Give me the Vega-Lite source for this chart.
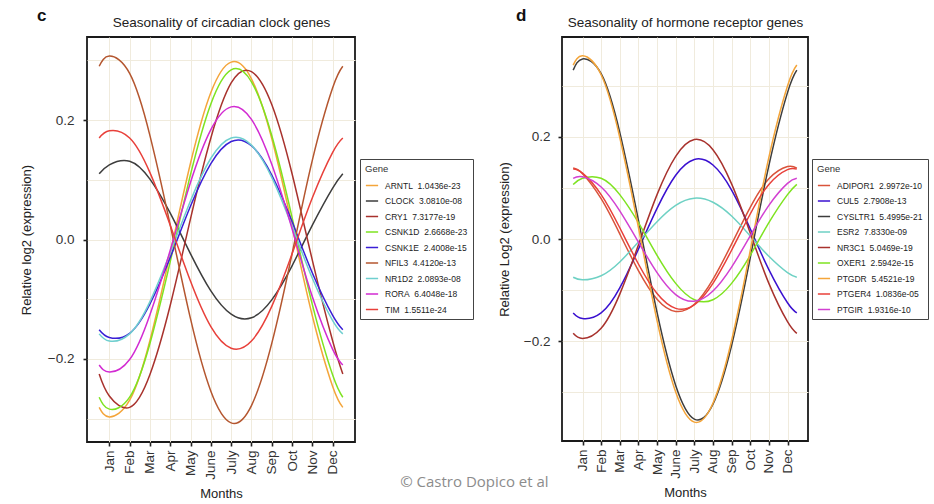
{
 "$schema": "https://vega.github.io/schema/vega-lite/v6.json",
 "padding": {"left": 19, "top": 6, "right": 1, "bottom": 2},
 "background": "white",
 "config": {
  "font": "Liberation Sans",
  "view": {"stroke": "#1a1a1a", "strokeWidth": 1.8},
  "axis": {"labelFont": "Liberation Sans", "titleFont": "Liberation Sans", "labelColor": "#333333", "titleColor": "#222222", "labelFontSize": 13.5, "titleFontSize": 13, "titleFontWeight": "normal", "tickColor": "#222222", "tickWidth": 1.6, "tickSize": 4, "domain": false, "gridColor": "#f0ebdd", "gridWidth": 1},
  "legend": {"labelFont": "Liberation Sans", "titleFont": "Liberation Sans"},
  "title": {"font": "Liberation Sans", "color": "#111111"}
 },
 "datasets": {
  "cg": [
   {"g": "ARNTL", "lab": "ARNTL\u00a0 1.0436e-23"},
   {"g": "CLOCK", "lab": "CLOCK\u00a0 3.0810e-08"},
   {"g": "CRY1", "lab": "CRY1\u00a0 7.3177e-19"},
   {"g": "CSNK1D", "lab": "CSNK1D\u00a0 2.6668e-23"},
   {"g": "CSNK1E", "lab": "CSNK1E\u00a0 2.4008e-15"},
   {"g": "NFIL3", "lab": "NFIL3\u00a0 4.4120e-13"},
   {"g": "NR1D2", "lab": "NR1D2\u00a0 2.0893e-08"},
   {"g": "RORA", "lab": "RORA\u00a0 6.4048e-18"},
   {"g": "TIM", "lab": "TIM\u00a0 1.5511e-24"}
  ],
  "dg": [
   {"g": "ADIPOR1", "lab": "ADIPOR1\u00a0 2.9972e-10"},
   {"g": "CUL5", "lab": "CUL5\u00a0 2.7908e-13"},
   {"g": "CYSLTR1", "lab": "CYSLTR1\u00a0 5.4995e-21"},
   {"g": "ESR2", "lab": "ESR2\u00a0 7.8330e-09"},
   {"g": "NR3C1", "lab": "NR3C1\u00a0 5.0469e-19"},
   {"g": "OXER1", "lab": "OXER1\u00a0 2.5942e-15"},
   {"g": "PTGDR", "lab": "PTGDR\u00a0 5.4521e-19"},
   {"g": "PTGER4", "lab": "PTGER4\u00a0 1.0836e-05"},
   {"g": "PTGIR", "lab": "PTGIR\u00a0 1.9316e-10"}
  ],
  "c": [
   {"g":"ARNTL","m":0.5,"v":-0.281},{"g":"ARNTL","m":1,"v":-0.297},{"g":"ARNTL","m":2,"v":-0.269},{"g":"ARNTL","m":3,"v":-0.169},{"g":"ARNTL","m":4,"v":-0.023},{"g":"ARNTL","m":5,"v":0.128},{"g":"ARNTL","m":6,"v":0.246},{"g":"ARNTL","m":7,"v":0.297},{"g":"ARNTL","m":8,"v":0.269},{"g":"ARNTL","m":9,"v":0.169},{"g":"ARNTL","m":10,"v":0.023},{"g":"ARNTL","m":11,"v":-0.128},{"g":"ARNTL","m":12,"v":-0.246},{"g":"ARNTL","m":12.5,"v":-0.281},
   {"g":"CLOCK","m":0.5,"v":0.110},{"g":"CLOCK","m":1,"v":0.125},{"g":"CLOCK","m":2,"v":0.131},{"g":"CLOCK","m":3,"v":0.101},{"g":"CLOCK","m":4,"v":0.044},{"g":"CLOCK","m":5,"v":-0.024},{"g":"CLOCK","m":6,"v":-0.086},{"g":"CLOCK","m":7,"v":-0.125},{"g":"CLOCK","m":8,"v":-0.131},{"g":"CLOCK","m":9,"v":-0.101},{"g":"CLOCK","m":10,"v":-0.044},{"g":"CLOCK","m":11,"v":0.024},{"g":"CLOCK","m":12,"v":0.086},{"g":"CLOCK","m":12.5,"v":0.110},
   {"g":"CRY1","m":0.5,"v":-0.225},{"g":"CRY1","m":1,"v":-0.262},{"g":"CRY1","m":2,"v":-0.281},{"g":"CRY1","m":3,"v":-0.226},{"g":"CRY1","m":4,"v":-0.110},{"g":"CRY1","m":5,"v":0.035},{"g":"CRY1","m":6,"v":0.170},{"g":"CRY1","m":7,"v":0.262},{"g":"CRY1","m":8,"v":0.281},{"g":"CRY1","m":9,"v":0.226},{"g":"CRY1","m":10,"v":0.110},{"g":"CRY1","m":11,"v":-0.035},{"g":"CRY1","m":12,"v":-0.170},{"g":"CRY1","m":12.5,"v":-0.225},
   {"g":"CSNK1D","m":0.5,"v":-0.264},{"g":"CSNK1D","m":1,"v":-0.284},{"g":"CSNK1D","m":2,"v":-0.264},{"g":"CSNK1D","m":3,"v":-0.174},{"g":"CSNK1D","m":4,"v":-0.037},{"g":"CSNK1D","m":5,"v":0.109},{"g":"CSNK1D","m":6,"v":0.227},{"g":"CSNK1D","m":7,"v":0.284},{"g":"CSNK1D","m":8,"v":0.264},{"g":"CSNK1D","m":9,"v":0.174},{"g":"CSNK1D","m":10,"v":0.037},{"g":"CSNK1D","m":11,"v":-0.109},{"g":"CSNK1D","m":12,"v":-0.227},{"g":"CSNK1D","m":12.5,"v":-0.264},
   {"g":"CSNK1E","m":0.5,"v":-0.151},{"g":"CSNK1E","m":1,"v":-0.164},{"g":"CSNK1E","m":2,"v":-0.157},{"g":"CSNK1E","m":3,"v":-0.108},{"g":"CSNK1E","m":4,"v":-0.030},{"g":"CSNK1E","m":5,"v":0.056},{"g":"CSNK1E","m":6,"v":0.127},{"g":"CSNK1E","m":7,"v":0.164},{"g":"CSNK1E","m":8,"v":0.157},{"g":"CSNK1E","m":9,"v":0.108},{"g":"CSNK1E","m":10,"v":0.030},{"g":"CSNK1E","m":11,"v":-0.056},{"g":"CSNK1E","m":12,"v":-0.127},{"g":"CSNK1E","m":12.5,"v":-0.151},
   {"g":"NFIL3","m":0.5,"v":0.290},{"g":"NFIL3","m":1,"v":0.307},{"g":"NFIL3","m":2,"v":0.278},{"g":"NFIL3","m":3,"v":0.174},{"g":"NFIL3","m":4,"v":0.024},{"g":"NFIL3","m":5,"v":-0.133},{"g":"NFIL3","m":6,"v":-0.254},{"g":"NFIL3","m":7,"v":-0.307},{"g":"NFIL3","m":8,"v":-0.278},{"g":"NFIL3","m":9,"v":-0.174},{"g":"NFIL3","m":10,"v":-0.024},{"g":"NFIL3","m":11,"v":0.133},{"g":"NFIL3","m":12,"v":0.254},{"g":"NFIL3","m":12.5,"v":0.290},
   {"g":"NR1D2","m":0.5,"v":-0.158},{"g":"NR1D2","m":1,"v":-0.170},{"g":"NR1D2","m":2,"v":-0.158},{"g":"NR1D2","m":3,"v":-0.104},{"g":"NR1D2","m":4,"v":-0.022},{"g":"NR1D2","m":5,"v":0.065},{"g":"NR1D2","m":6,"v":0.136},{"g":"NR1D2","m":7,"v":0.170},{"g":"NR1D2","m":8,"v":0.158},{"g":"NR1D2","m":9,"v":0.104},{"g":"NR1D2","m":10,"v":0.022},{"g":"NR1D2","m":11,"v":-0.065},{"g":"NR1D2","m":12,"v":-0.136},{"g":"NR1D2","m":12.5,"v":-0.158},
   {"g":"RORA","m":0.5,"v":-0.210},{"g":"RORA","m":1,"v":-0.222},{"g":"RORA","m":2,"v":-0.201},{"g":"RORA","m":3,"v":-0.126},{"g":"RORA","m":4,"v":-0.018},{"g":"RORA","m":5,"v":0.096},{"g":"RORA","m":6,"v":0.184},{"g":"RORA","m":7,"v":0.222},{"g":"RORA","m":8,"v":0.201},{"g":"RORA","m":9,"v":0.126},{"g":"RORA","m":10,"v":0.018},{"g":"RORA","m":11,"v":-0.096},{"g":"RORA","m":12,"v":-0.184},{"g":"RORA","m":12.5,"v":-0.210},
   {"g":"TIM","m":0.5,"v":0.170},{"g":"TIM","m":1,"v":0.182},{"g":"TIM","m":2,"v":0.170},{"g":"TIM","m":3,"v":0.112},{"g":"TIM","m":4,"v":0.024},{"g":"TIM","m":5,"v":-0.070},{"g":"TIM","m":6,"v":-0.146},{"g":"TIM","m":7,"v":-0.182},{"g":"TIM","m":8,"v":-0.170},{"g":"TIM","m":9,"v":-0.112},{"g":"TIM","m":10,"v":-0.024},{"g":"TIM","m":11,"v":0.070},{"g":"TIM","m":12,"v":0.146},{"g":"TIM","m":12.5,"v":0.170}
  ],
  "d": [
   {"g":"ADIPOR1","m":0.5,"v":0.139},{"g":"ADIPOR1","m":1,"v":0.128},{"g":"ADIPOR1","m":2,"v":0.079},{"g":"ADIPOR1","m":3,"v":0.010},{"g":"ADIPOR1","m":4,"v":-0.062},{"g":"ADIPOR1","m":5,"v":-0.118},{"g":"ADIPOR1","m":6,"v":-0.142},{"g":"ADIPOR1","m":7,"v":-0.128},{"g":"ADIPOR1","m":8,"v":-0.079},{"g":"ADIPOR1","m":9,"v":-0.010},{"g":"ADIPOR1","m":10,"v":0.062},{"g":"ADIPOR1","m":11,"v":0.118},{"g":"ADIPOR1","m":12,"v":0.142},{"g":"ADIPOR1","m":12.5,"v":0.139},
   {"g":"CUL5","m":0.5,"v":-0.145},{"g":"CUL5","m":1,"v":-0.156},{"g":"CUL5","m":2,"v":-0.145},{"g":"CUL5","m":3,"v":-0.096},{"g":"CUL5","m":4,"v":-0.020},{"g":"CUL5","m":5,"v":0.060},{"g":"CUL5","m":6,"v":0.125},{"g":"CUL5","m":7,"v":0.156},{"g":"CUL5","m":8,"v":0.145},{"g":"CUL5","m":9,"v":0.096},{"g":"CUL5","m":10,"v":0.020},{"g":"CUL5","m":11,"v":-0.060},{"g":"CUL5","m":12,"v":-0.125},{"g":"CUL5","m":12.5,"v":-0.145},
   {"g":"CYSLTR1","m":0.5,"v":0.331},{"g":"CYSLTR1","m":1,"v":0.353},{"g":"CYSLTR1","m":2,"v":0.324},{"g":"CYSLTR1","m":3,"v":0.209},{"g":"CYSLTR1","m":4,"v":0.037},{"g":"CYSLTR1","m":5,"v":-0.144},{"g":"CYSLTR1","m":6,"v":-0.287},{"g":"CYSLTR1","m":7,"v":-0.353},{"g":"CYSLTR1","m":8,"v":-0.324},{"g":"CYSLTR1","m":9,"v":-0.209},{"g":"CYSLTR1","m":10,"v":-0.037},{"g":"CYSLTR1","m":11,"v":0.144},{"g":"CYSLTR1","m":12,"v":0.287},{"g":"CYSLTR1","m":12.5,"v":0.331},
   {"g":"ESR2","m":0.5,"v":-0.075},{"g":"ESR2","m":1,"v":-0.080},{"g":"ESR2","m":2,"v":-0.072},{"g":"ESR2","m":3,"v":-0.045},{"g":"ESR2","m":4,"v":-0.006},{"g":"ESR2","m":5,"v":0.034},{"g":"ESR2","m":6,"v":0.066},{"g":"ESR2","m":7,"v":0.080},{"g":"ESR2","m":8,"v":0.072},{"g":"ESR2","m":9,"v":0.045},{"g":"ESR2","m":10,"v":0.006},{"g":"ESR2","m":11,"v":-0.034},{"g":"ESR2","m":12,"v":-0.066},{"g":"ESR2","m":12.5,"v":-0.075},
   {"g":"NR3C1","m":0.5,"v":-0.185},{"g":"NR3C1","m":1,"v":-0.195},{"g":"NR3C1","m":2,"v":-0.175},{"g":"NR3C1","m":3,"v":-0.108},{"g":"NR3C1","m":4,"v":-0.012},{"g":"NR3C1","m":5,"v":0.087},{"g":"NR3C1","m":6,"v":0.162},{"g":"NR3C1","m":7,"v":0.195},{"g":"NR3C1","m":8,"v":0.175},{"g":"NR3C1","m":9,"v":0.108},{"g":"NR3C1","m":10,"v":0.012},{"g":"NR3C1","m":11,"v":-0.087},{"g":"NR3C1","m":12,"v":-0.162},{"g":"NR3C1","m":12.5,"v":-0.185},
   {"g":"OXER1","m":0.5,"v":0.107},{"g":"OXER1","m":1,"v":0.119},{"g":"OXER1","m":2,"v":0.119},{"g":"OXER1","m":3,"v":0.087},{"g":"OXER1","m":4,"v":0.032},{"g":"OXER1","m":5,"v":-0.032},{"g":"OXER1","m":6,"v":-0.087},{"g":"OXER1","m":7,"v":-0.119},{"g":"OXER1","m":8,"v":-0.119},{"g":"OXER1","m":9,"v":-0.087},{"g":"OXER1","m":10,"v":-0.032},{"g":"OXER1","m":11,"v":0.032},{"g":"OXER1","m":12,"v":0.087},{"g":"OXER1","m":12.5,"v":0.107},
   {"g":"PTGDR","m":0.5,"v":0.341},{"g":"PTGDR","m":1,"v":0.359},{"g":"PTGDR","m":2,"v":0.322},{"g":"PTGDR","m":3,"v":0.199},{"g":"PTGDR","m":4,"v":0.023},{"g":"PTGDR","m":5,"v":-0.160},{"g":"PTGDR","m":6,"v":-0.300},{"g":"PTGDR","m":7,"v":-0.359},{"g":"PTGDR","m":8,"v":-0.322},{"g":"PTGDR","m":9,"v":-0.199},{"g":"PTGDR","m":10,"v":-0.023},{"g":"PTGDR","m":11,"v":0.160},{"g":"PTGDR","m":12,"v":0.300},{"g":"PTGDR","m":12.5,"v":0.341},
   {"g":"PTGER4","m":0.5,"v":0.137},{"g":"PTGER4","m":1,"v":0.129},{"g":"PTGER4","m":2,"v":0.087},{"g":"PTGER4","m":3,"v":0.022},{"g":"PTGER4","m":4,"v":-0.049},{"g":"PTGER4","m":5,"v":-0.107},{"g":"PTGER4","m":6,"v":-0.136},{"g":"PTGER4","m":7,"v":-0.129},{"g":"PTGER4","m":8,"v":-0.087},{"g":"PTGER4","m":9,"v":-0.022},{"g":"PTGER4","m":10,"v":0.049},{"g":"PTGER4","m":11,"v":0.107},{"g":"PTGER4","m":12,"v":0.136},{"g":"PTGER4","m":12.5,"v":0.137},
   {"g":"PTGIR","m":0.5,"v":0.119},{"g":"PTGIR","m":1,"v":0.122},{"g":"PTGIR","m":2,"v":0.102},{"g":"PTGIR","m":3,"v":0.055},{"g":"PTGIR","m":4,"v":-0.006},{"g":"PTGIR","m":5,"v":-0.066},{"g":"PTGIR","m":6,"v":-0.109},{"g":"PTGIR","m":7,"v":-0.122},{"g":"PTGIR","m":8,"v":-0.102},{"g":"PTGIR","m":9,"v":-0.055},{"g":"PTGIR","m":10,"v":0.006},{"g":"PTGIR","m":11,"v":0.066},{"g":"PTGIR","m":12,"v":0.109},{"g":"PTGIR","m":12.5,"v":0.119}
  ]
 },
 "title": {"text": "© Castro Dopico et al", "orient": "bottom", "anchor": "middle", "font": "Open Sans", "fontSize": 15, "fontWeight": "normal", "color": "#8c8c8c", "offset": -26},
 "spacing": 22,
 "resolve": {"scale": {"color": "independent"}, "legend": {"color": "independent"}},
 "hconcat": [
  {
   "width": 268, "height": 405,
   "title": {"text": "c", "anchor": "start", "frame": "group", "dx": -50, "fontSize": 17, "fontWeight": "bold", "offset": -10},
   "data": {"name": "c"},
   "transform": [{"lookup": "g", "from": {"data": {"name": "cg"}, "key": "g", "fields": ["lab"]}}],
   "layer": [
    {
     "mark": {"type": "line", "interpolate": "natural", "strokeWidth": 1.5},
     "encoding": {
      "x": {"field": "m", "type": "quantitative", "scale": {"domain": [-0.1, 13.1], "nice": false, "zero": false},
            "axis": {"orient": "bottom", "values": [1,2,3,4,5,6,7,8,9,10,11,12], "labelExpr": "['Jan','Feb','Mar','Apr','May','June','July','Aug','Sep','Oct','Nov','Dec'][datum.value-1]", "labelAngle": 270, "grid": true, "title": "Months", "titlePadding": 8, "labelPadding": 4}},
      "y": {"field": "v", "type": "quantitative", "scale": {"domain": [-0.339, 0.339], "nice": false, "zero": false},
            "axis": {"orient": "left", "values": [-0.2, 0, 0.2], "format": ".1f", "grid": false, "title": "Relative log2 (expression)", "titlePadding": 14, "labelPadding": 9}},
      "color": {"field": "lab", "type": "nominal",
                "scale": {"domain": ["ARNTL\u00a0 1.0436e-23","CLOCK\u00a0 3.0810e-08","CRY1\u00a0 7.3177e-19","CSNK1D\u00a0 2.6668e-23","CSNK1E\u00a0 2.4008e-15","NFIL3\u00a0 4.4120e-13","NR1D2\u00a0 2.0893e-08","RORA\u00a0 6.4048e-18","TIM\u00a0 1.5511e-24"],
                          "range": ["#f4a53a","#3d3d3d","#a8322d","#7ee320","#3a1fd6","#b4562f","#6fcfcf","#d22bd2","#e8403a"]},
                "legend": {"orient": "none", "legendX": 273, "legendY": 122, "title": "Gene", "symbolType": "stroke", "symbolStrokeWidth": 1.5, "symbolSize": 150, "labelFontSize": 8.5, "titleFontSize": 9.5, "titleFontWeight": "normal", "titleColor": "#333333", "labelColor": "#222222", "labelOffset": 6, "strokeColor": "#444444", "fillColor": "white", "padding": 5, "rowPadding": 3.5}}
     }
    },
    {
     "mark": {"type": "line", "opacity": 0},
     "encoding": {
      "x": {"field": "m", "type": "quantitative", "axis": {"orient": "top", "title": "Seasonality of circadian clock genes", "labels": false, "ticks": false, "domain": false, "grid": false, "titlePadding": 8, "titleFontSize": 13.5}},
      "y": {"field": "v", "type": "quantitative", "axis": {"orient": "right", "values": [-0.3,-0.2,-0.1,0,0.1,0.2,0.3], "labels": false, "ticks": false, "domain": false, "grid": true, "title": null}},
      "detail": {"field": "g"}
     }
    }
   ],
   "resolve": {"axis": {"x": "independent", "y": "independent"}}
  },
  {
   "width": 246, "height": 404,
   "title": {"text": "d", "anchor": "start", "frame": "group", "dx": -46, "fontSize": 17, "fontWeight": "bold", "offset": -10},
   "data": {"name": "d"},
   "transform": [{"lookup": "g", "from": {"data": {"name": "dg"}, "key": "g", "fields": ["lab"]}}],
   "layer": [
    {
     "mark": {"type": "line", "interpolate": "natural", "strokeWidth": 1.5},
     "encoding": {
      "x": {"field": "m", "type": "quantitative", "scale": {"domain": [-0.1, 13.1], "nice": false, "zero": false},
            "axis": {"orient": "bottom", "values": [1,2,3,4,5,6,7,8,9,10,11,12], "labelExpr": "['Jan','Feb','Mar','Apr','May','June','July','Aug','Sep','Oct','Nov','Dec'][datum.value-1]", "labelAngle": 270, "grid": true, "title": "Months", "titlePadding": 8, "labelPadding": 4}},
      "y": {"field": "v", "type": "quantitative", "scale": {"domain": [-0.396, 0.396], "nice": false, "zero": false},
            "axis": {"orient": "left", "values": [-0.2, 0, 0.2], "format": ".1f", "grid": false, "title": "Relative Log2 (expression)", "titlePadding": 12, "labelPadding": 8}},
      "color": {"field": "lab", "type": "nominal",
                "scale": {"domain": ["ADIPOR1\u00a0 2.9972e-10","CUL5\u00a0 2.7908e-13","CYSLTR1\u00a0 5.4995e-21","ESR2\u00a0 7.8330e-09","NR3C1\u00a0 5.0469e-19","OXER1\u00a0 2.5942e-15","PTGDR\u00a0 5.4521e-19","PTGER4\u00a0 1.0836e-05","PTGIR\u00a0 1.9316e-10"],
                          "range": ["#d9533a","#3a10d0","#3d3d3d","#6ed1c4","#a8322d","#7ee320","#f4a53a","#e8403a","#d240d2"]},
                "legend": {"orient": "none", "legendX": 250, "legendY": 122, "title": "Gene", "symbolType": "stroke", "symbolStrokeWidth": 1.5, "symbolSize": 150, "labelFontSize": 8.5, "titleFontSize": 9.5, "titleFontWeight": "normal", "titleColor": "#333333", "labelColor": "#222222", "labelOffset": 6, "strokeColor": "#444444", "fillColor": "white", "padding": 5, "rowPadding": 3.5}}
     }
    },
    {
     "mark": {"type": "line", "opacity": 0},
     "encoding": {
      "x": {"field": "m", "type": "quantitative", "axis": {"orient": "top", "title": "Seasonality of hormone receptor genes", "labels": false, "ticks": false, "domain": false, "grid": false, "titlePadding": 8, "titleFontSize": 13.5}},
      "y": {"field": "v", "type": "quantitative", "axis": {"orient": "right", "values": [-0.3,-0.2,-0.1,0,0.1,0.2,0.3], "labels": false, "ticks": false, "domain": false, "grid": true, "title": null}},
      "detail": {"field": "g"}
     }
    }
   ],
   "resolve": {"axis": {"x": "independent", "y": "independent"}}
  }
 ]
}
